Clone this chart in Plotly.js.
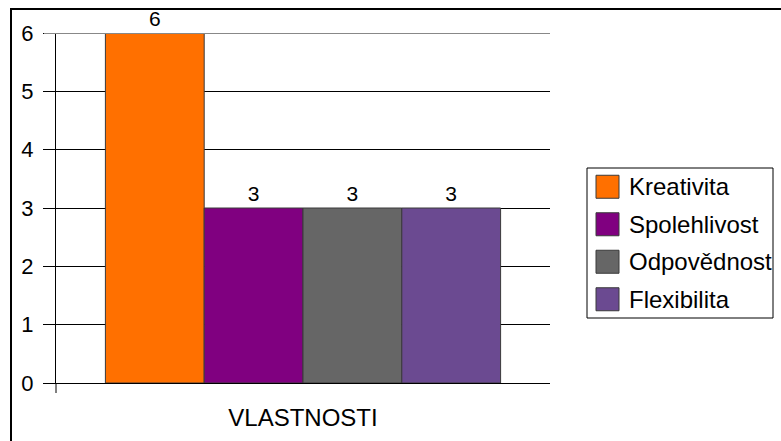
<!DOCTYPE html>
<html>
<head>
<meta charset="utf-8">
<script src="https://cdn.plot.ly/plotly-3.0.1.min.js"></script>
<style>
  html, body { margin: 0; padding: 0; background: #ffffff; }
  #chart { width: 781px; height: 441px; }
</style>
</head>
<body>
<div id="chart"></div>
<script>
// Category and series data
const category = 'VLASTNOSTI';
const seriesNames = ['Kreativita', 'Spolehlivost', 'Odpovědnost', 'Flexibilita'];
const seriesValues = [6, 3, 3, 3];
const seriesColors = ['#ff7000', '#800080', '#666666', '#6b4a91'];
const yTickValues = [0, 1, 2, 3, 4, 5, 6];

const FONT = 'Liberation Sans, Arial, sans-serif';

// Plot-area geometry in pixels (used for paper-coordinate helpers)
const W = 781, H = 441;
const M = { l: 56, r: 231, t: 33, b: 58 };
const PW = W - M.l - M.r, PH = H - M.t - M.b;
const px = x => (x - M.l) / PW;          // pixel x -> paper x
const py = y => (H - M.b - y) / PH;      // pixel y -> paper y

const traces = seriesNames.map((name, i) => ({
  type: 'bar',
  name: name,
  x: [category],
  y: [seriesValues[i]],
  text: [String(seriesValues[i])],
  textposition: 'outside',
  textfont: { family: FONT, size: 21, color: '#000000' },
  cliponaxis: false,
  marker: { color: seriesColors[i], line: { color: '#3a3a3a', width: 1 } },
  hoverinfo: 'name+y'
}));

// Boxed legend on the right with large colour swatches
const LEG = { left: 587, right: 773, top: 168, bottom: 318, swatch: 23, pad: 9, textGap: 8 };
const rowH = (LEG.bottom - LEG.top) / seriesNames.length;
const legendShapes = [
  { type: 'rect', xref: 'paper', yref: 'paper',
    x0: px(LEG.left), x1: px(LEG.right), y0: py(LEG.top), y1: py(LEG.bottom),
    line: { color: '#000000', width: 1 }, fillcolor: '#ffffff' }
];
const legendLabels = [];
seriesNames.forEach((name, i) => {
  const cy = LEG.top + rowH * (i + 0.5);
  const sx0 = LEG.left + LEG.pad;
  legendShapes.push({
    type: 'rect', xref: 'paper', yref: 'paper',
    x0: px(sx0), x1: px(sx0 + LEG.swatch),
    y0: py(cy - LEG.swatch / 2), y1: py(cy + LEG.swatch / 2),
    line: { color: '#3a3a3a', width: 1 }, fillcolor: seriesColors[i]
  });
  legendLabels.push({
    xref: 'paper', yref: 'paper',
    x: px(sx0 + LEG.swatch + LEG.textGap), y: py(cy),
    xanchor: 'left', yanchor: 'middle',
    text: name, showarrow: false,
    font: { family: FONT, size: 24, color: '#000000' }
  });
});

const layout = {
  width: W,
  height: H,
  margin: M,
  paper_bgcolor: '#ffffff',
  plot_bgcolor: '#ffffff',
  font: { family: FONT, size: 21, color: '#000000' },
  barmode: 'group',
  bargap: 0.2,
  bargroupgap: 0,
  showlegend: false,
  xaxis: {
    type: 'category',
    showgrid: false,
    zeroline: false,
    showline: true,
    linecolor: '#000000',
    linewidth: 1,
    ticks: '',
    tickfont: { family: FONT, size: 24, color: '#000000' },
    ticklabelstandoff: 13
  },
  yaxis: {
    range: [0, 6],
    tickvals: yTickValues,
    ticktext: yTickValues.map(String),
    showgrid: true,
    gridcolor: '#000000',
    gridwidth: 1,
    zeroline: false,
    showline: true,
    linecolor: '#000000',
    linewidth: 1,
    ticks: 'outside',
    ticklen: 12,
    tickcolor: '#000000',
    tickfont: { family: FONT, size: 22, color: '#000000' },
    ticklabelstandoff: 5
  },
  annotations: legendLabels,
  shapes: [
    // top gridline and its tick drawn in grey
    { type: 'line', xref: 'paper', yref: 'y', x0: px(44), x1: 1, y0: 6, y1: 6,
      line: { color: '#888888', width: 2 }, layer: 'above' },
    // y-axis line continued below the baseline
    { type: 'line', xref: 'paper', yref: 'paper', x0: 0, x1: 0, y0: 0, y1: py(393),
      line: { color: '#000000', width: 1 } },
    // frame: left and top edges
    { type: 'line', xref: 'paper', yref: 'paper', x0: px(11), x1: px(11), y0: py(9), y1: py(441),
      line: { color: '#000000', width: 2 } },
    { type: 'line', xref: 'paper', yref: 'paper', x0: px(10), x1: px(781), y0: py(9), y1: py(9),
      line: { color: '#000000', width: 2 } }
  ].concat(legendShapes)
};

Plotly.newPlot('chart', traces, layout, { displayModeBar: false, staticPlot: true });
</script>
</body>
</html>
